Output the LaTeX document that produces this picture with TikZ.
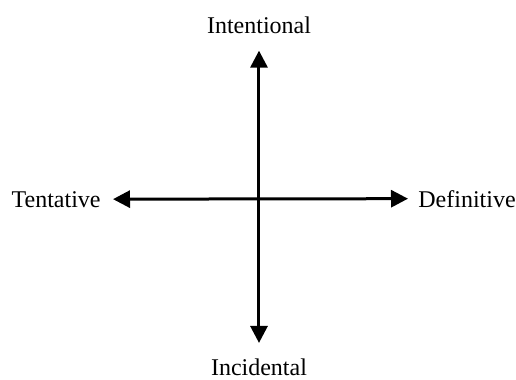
\documentclass[tikz,border=0pt]{standalone}
\usepackage{fontspec}
\setmainfont{Liberation Serif}
\usetikzlibrary{arrows.meta}

\tikzset{
    lbl/.style={inner sep=0pt, font=\fontsize{12}{14}\selectfont},
    axis/.style={draw=black, line width=1.5pt, {Triangle[length=8.5pt,width=8.5pt]}-{Triangle[length=8.5pt,width=8.5pt]}}
}

\begin{document}
\begin{tikzpicture}[x=0.5pt, y=-0.5pt]
            \useasboundingbox (0,0) rectangle (516,380);
            \node[lbl, anchor=base] (intent) at (259,33) {Intentional};
            \node[lbl, anchor=base] (incid) at (259,376) {Incidental};
            \node[lbl, anchor=base east] (tent) at (101,207) {Tentative};
            \node[lbl, anchor=base west] (defin) at (418,207) {Definitive};
            \draw[axis, shorten <=8.5pt, shorten >=8pt] (intent.south) -- (incid.north);
            \draw[axis, shorten <=6pt, shorten >=5pt] (tent.east) -- (defin.west);
        \end{tikzpicture}
\end{document}
